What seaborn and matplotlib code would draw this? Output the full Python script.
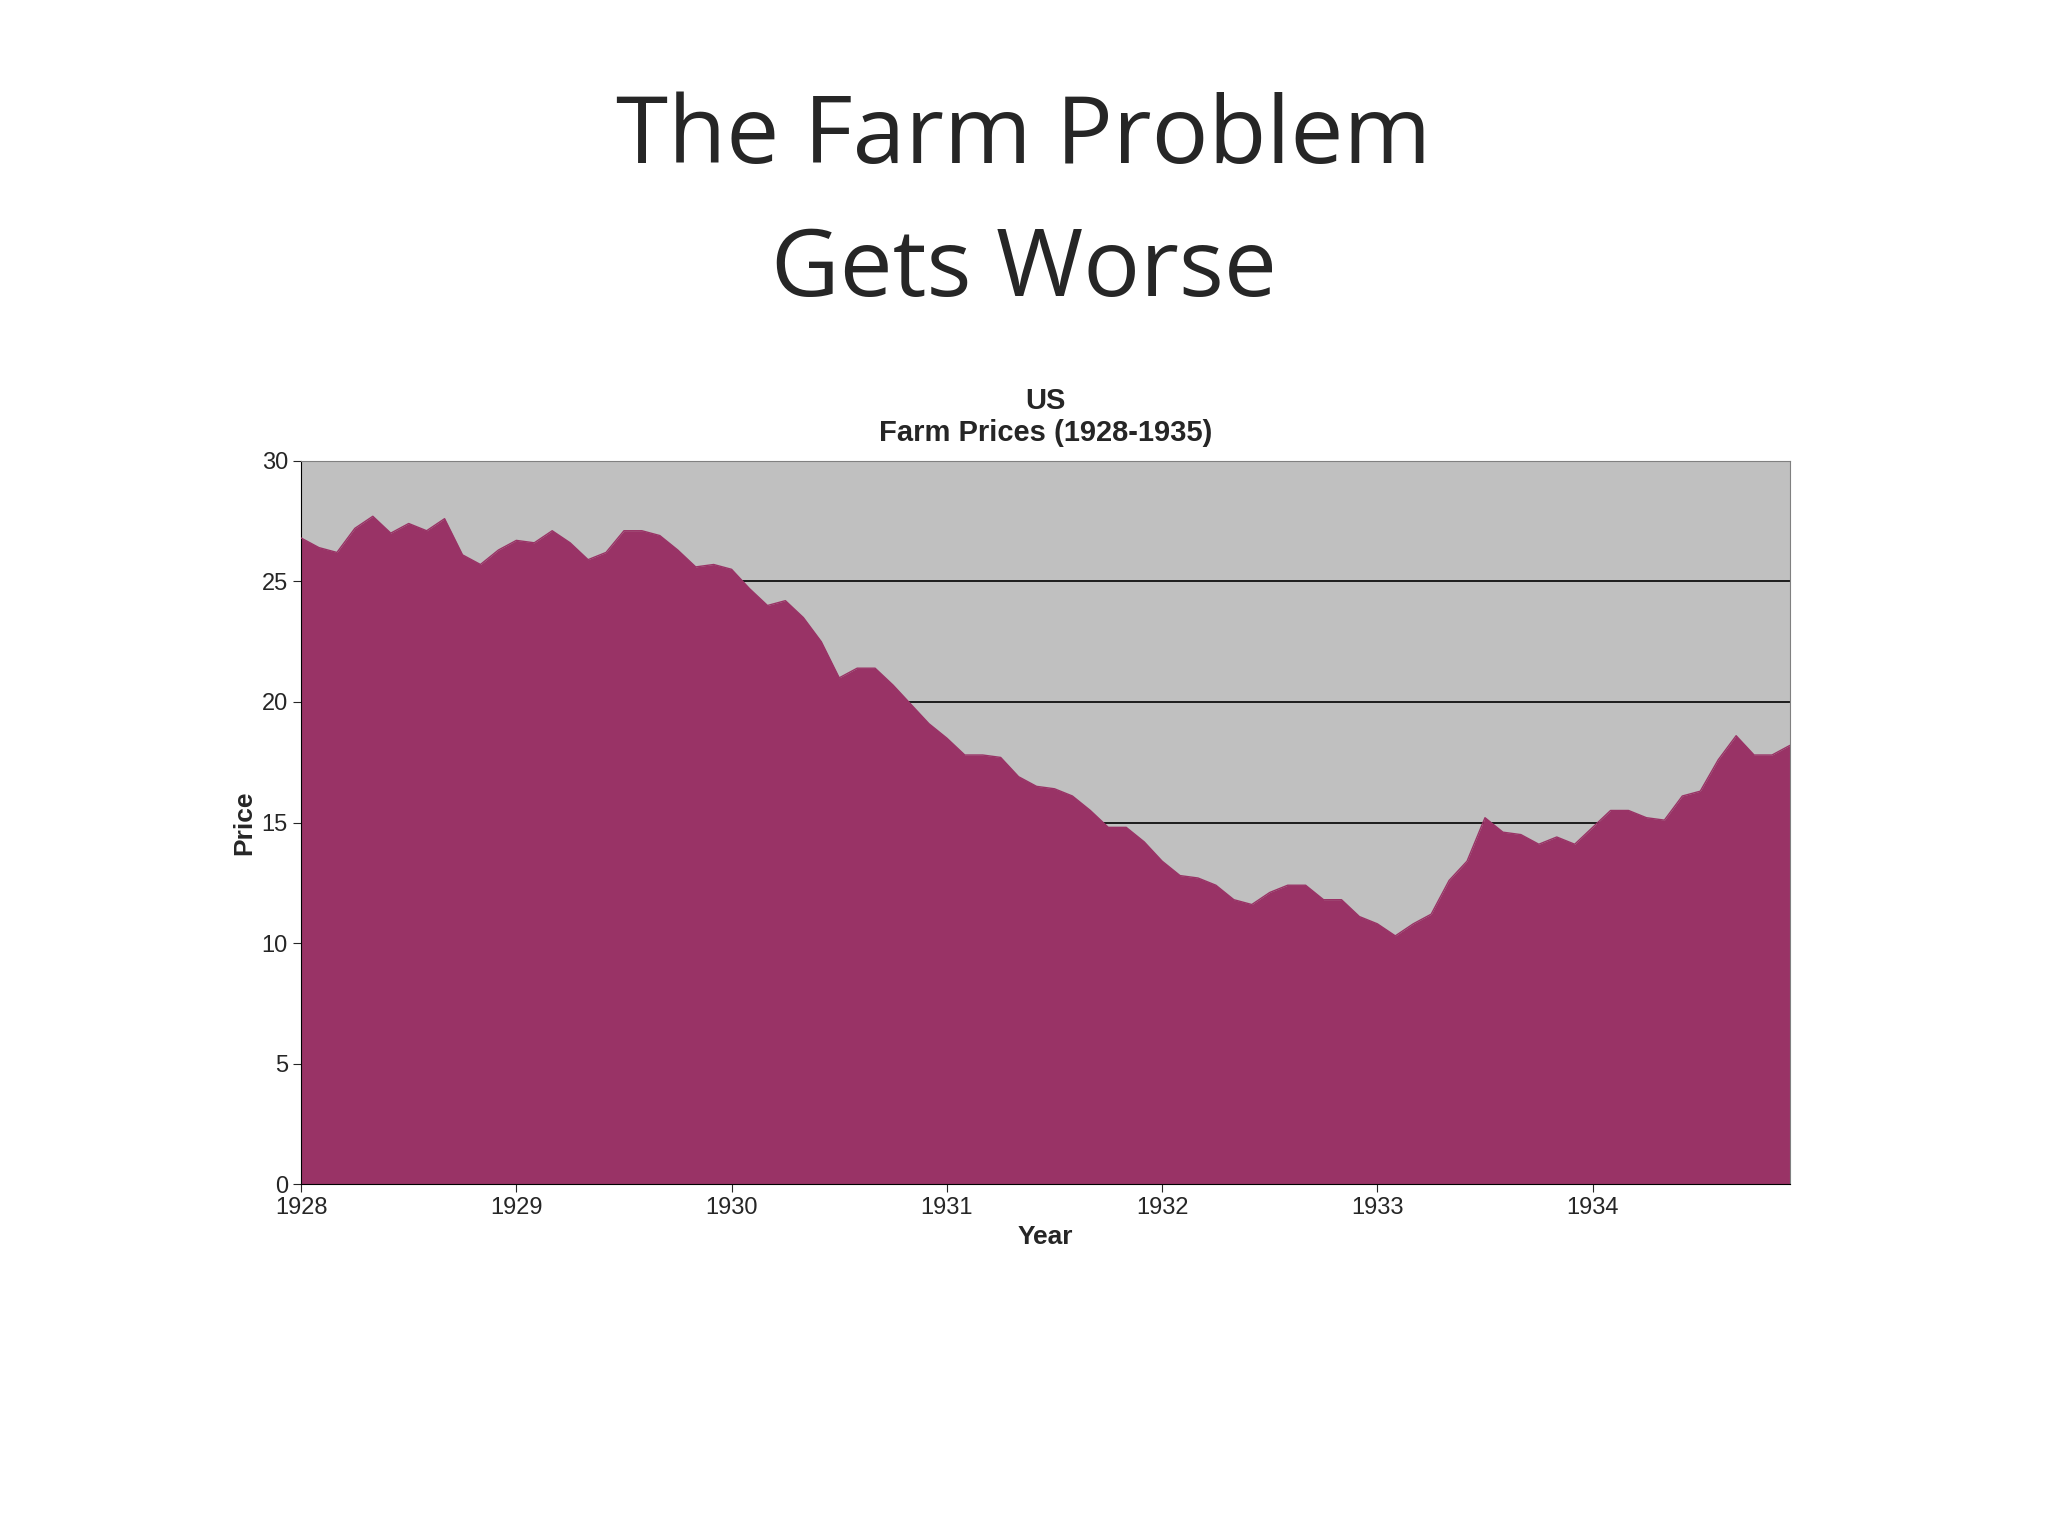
import numpy as np
import matplotlib
matplotlib.use("Agg")
import matplotlib.pyplot as plt
import seaborn as sns
import pandas as pd

years = [1928, 1929, 1930, 1931, 1932, 1933, 1934]
prices = [
    26.8, 26.4, 26.2, 27.2, 27.7, 27.0, 27.4, 27.1, 27.6, 26.1, 25.7, 26.3,
    26.7, 26.6, 27.1, 26.6, 25.9, 26.2, 27.1, 27.1, 26.9, 26.3, 25.6, 25.7,
    25.5, 24.7, 24.0, 24.2, 23.5, 22.5, 21.0, 21.4, 21.4, 20.7, 19.9, 19.1,
    18.5, 17.8, 17.8, 17.7, 16.9, 16.5, 16.4, 16.1, 15.5, 14.8, 14.8, 14.2,
    13.4, 12.8, 12.7, 12.4, 11.8, 11.6, 12.1, 12.4, 12.4, 11.8, 11.8, 11.1,
    10.8, 10.3, 10.8, 11.2, 12.6, 13.4, 15.2, 14.6, 14.5, 14.1, 14.4, 14.1,
    14.8, 15.5, 15.5, 15.2, 15.1, 16.1, 16.3, 17.6, 18.6, 17.8, 17.8, 18.2,
]
t = [1928 + i / 12 for i in range(len(prices))]
df = pd.DataFrame({"t": t, "price": prices})

sns.set_style("white")
plt.rcParams['font.family'] = ['Liberation Sans', 'DejaVu Sans']

fig = plt.figure(figsize=(20.48, 15.36), dpi=100)
ax = fig.add_axes([0.147, 0.229, 0.727, 0.471])
ax.set_facecolor("#c0c0c0")
for y in [15, 20, 25]:
    ax.axhline(y, color="black", lw=1.2, zorder=1)
ax.fill_between(df["t"], df["price"], 0, color="#993366", zorder=2, lw=0)
sns.lineplot(data=df, x="t", y="price", ax=ax, color="#993366", lw=1, zorder=3)
ax.set_xlim(t[0], t[-1])
ax.set_ylim(0, 30)
ax.set_xticks(years)
ax.set_xticklabels([str(y) for y in years], fontsize=17)
ax.set_yticks(range(0, 31, 5))
ax.tick_params(axis='y', labelsize=17, length=6, direction='out', left=True)
ax.tick_params(axis='x', length=6, direction='out', bottom=True)
for s in ax.spines.values():
    s.set_color("#808080")
ax.spines['left'].set_color("black")
ax.spines['bottom'].set_color("black")
ax.set_xlabel("Year", fontsize=19, fontweight="bold")
ax.set_ylabel("Price", fontsize=19, fontweight="bold")
ax.set_title("US\nFarm Prices (1928-1935)", fontsize=21, fontweight="bold", pad=14)

fig.text(0.5, 0.91, "The Farm Problem", ha="center", va="center", fontsize=68, family="Open Sans")
fig.text(0.5, 0.823, "Gets Worse", ha="center", va="center", fontsize=68, family="Open Sans")
fig.savefig("out.png", dpi=100, facecolor="white")
